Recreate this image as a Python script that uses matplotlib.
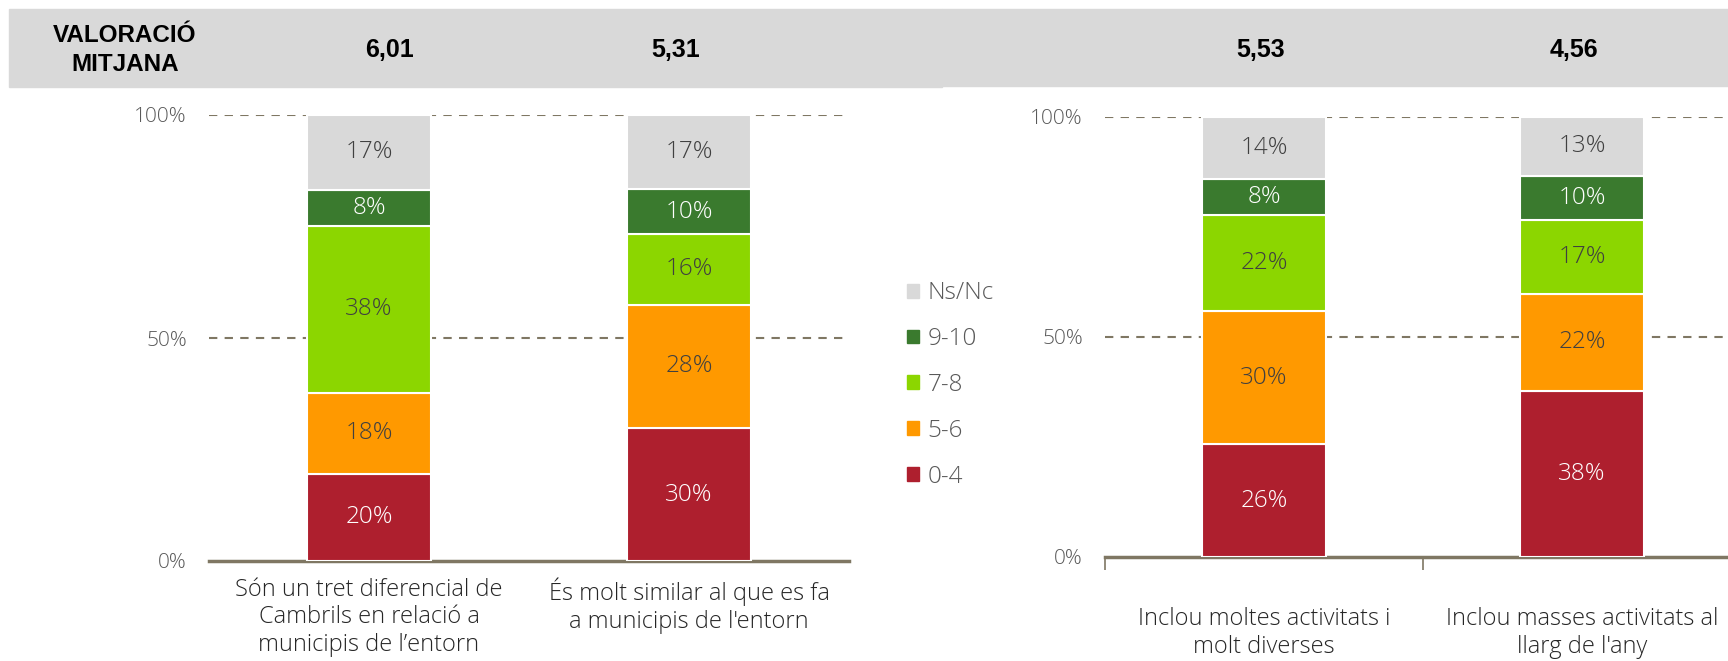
import matplotlib
matplotlib.use("Agg")
import matplotlib.pyplot as plt
import matplotlib.transforms as mtransforms
from matplotlib.patches import Rectangle, Patch

# data
groups = ["0-4", "5-6", "7-8", "9-10", "Ns/Nc"]
colors = ["#AE1F2E", "#FF9900", "#8CD600", "#3A7A2E", "#D9D9D9"]
text_colors = ["white", "#404040", "#404040", "white", "#404040"]

left_cats = ["Són un tret diferencial de\nCambrils en relació a\nmunicipis de l’entorn",
             "És molt similar al que es fa\na municipis de l'entorn"]
left_vals = [[19.6, 29.8], [18.0, 27.7], [37.6, 15.8], [8.0, 10.0], [16.8, 16.7]]
left_mean = ["6,01", "5,31"]

right_cats = ["Inclou moltes activitats i\nmolt diverses",
              "Inclou masses activitats al\nllarg de l'any"]
right_vals = [[25.6, 37.8], [30.2, 21.9], [21.9, 17.0], [8.2, 10.0], [14.1, 13.3]]
right_mean = ["5,53", "4,56"]

font = ["Open Sans", "DejaVu Sans"]
head_font = ["Liberation Sans", "DejaVu Sans"]
plt.rcParams['font.family'] = font
plt.rcParams['font.weight'] = 'light'

W, H = 1728, 661
fig = plt.figure(figsize=(W / 100, H / 100), dpi=100)

# header bands (behind everything)
fig.patches.append(Rectangle((9 / W, 1 - 87 / H), (942 - 9) / W, 78 / H,
                             transform=fig.transFigure, color="#D9D9D9", zorder=-5))
fig.patches.append(Rectangle((942 / W, 1 - 86 / H), (W - 942) / W, 77 / H,
                             transform=fig.transFigure, color="#D9D9D9", zorder=-5))
fig.text(125 / W, 1 - 50 / H, "VALORACIÓ\nMITJANA", ha="center", va="center",
         fontsize=17.5, fontweight="bold", family=head_font, linespacing=1.3)


def draw(ax, cats, vals, means, head_shift, xticks_out, pad):
    x = list(range(len(cats)))
    bottom = [0] * len(cats)
    for i, g in enumerate(groups):
        bars = ax.bar(x, vals[i], 0.39, bottom=bottom, color=colors[i],
                      edgecolor="white", linewidth=1.5, label=g, zorder=3)
        for b, v in zip(bars, vals[i]):
            ax.text(b.get_x() + b.get_width() / 2, b.get_y() + v / 2,
                    "%d%%" % round(v), ha="center", va="center",
                    fontsize=17.5, color=text_colors[i], zorder=4)
        bottom = [bo + v for bo, v in zip(bottom, vals[i])]
    ax.set_xlim(-0.5, len(cats) - 0.5)
    ax.set_ylim(0, 100)
    ax.set_yticks([0, 50, 100])
    ax.set_yticklabels(["0%", "50%", "100%"])
    for y in [50, 100]:
        ax.axhline(y, color="#7F7763", linestyle=(0, (4, 3.5)), linewidth=1.5, zorder=1)
    for s in ["top", "right", "left"]:
        ax.spines[s].set_visible(False)
    ax.spines["bottom"].set_color("#7F7763")
    ax.spines["bottom"].set_linewidth(2.5)
    ax.tick_params(axis="y", length=0, pad=16, labelsize=15, labelcolor="#595959")
    ax.set_xticks(x)
    ax.set_xticklabels(cats, fontsize=17, color="#262626", linespacing=1.2)
    ax.tick_params(axis="x", length=0, pad=pad)
    if xticks_out:
        ax.set_xticks([-0.5, 0.5, 1.5], minor=True)
        ax.tick_params(axis="x", which="minor", length=9, width=1.2,
                       color="#7F7763", direction="out")
    trans = mtransforms.blended_transform_factory(ax.transData, fig.transFigure)
    for xi, m, dx in zip(x, means, head_shift):
        ax.text(xi + dx, 1 - 50 / H, m, transform=trans, ha="center", va="center",
                fontsize=18, fontweight="bold", family=head_font, clip_on=False)


ax1 = fig.add_axes([209 / W, 1 - 561 / H, 640 / W, (561 - 115) / H])
draw(ax1, left_cats, left_vals, left_mean, [0.064, -0.043], False, 12)

ax2 = fig.add_axes([1105 / W, 1 - 557 / H, 636 / W, (557 - 117) / H])
draw(ax2, right_cats, right_vals, right_mean, [-0.012, -0.024], True, 36)

handles = [Patch(color=colors[i], label=groups[i]) for i in range(len(groups))][::-1]
fig.legend(handles=handles, loc="center left", bbox_to_anchor=(895 / W, 1 - 385 / H),
           frameon=False, fontsize=17.5, labelcolor="#595959", handlelength=0.5,
           handleheight=0.5, handletextpad=0.35, labelspacing=0.9, borderpad=0)

fig.savefig("out.png", dpi=100)
